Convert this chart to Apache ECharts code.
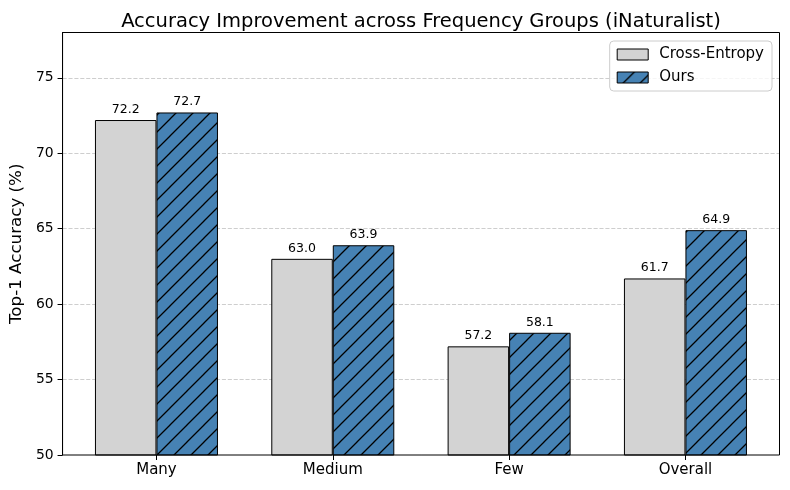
<!DOCTYPE html>
<html>
<head>
<meta charset="utf-8">
<script src="https://cdn.jsdelivr.net/npm/echarts@6/dist/echarts.min.js"></script>
<style>
html,body{margin:0;padding:0;background:#fff;}
#chart{width:790px;height:490px;}
</style>
</head>
<body>
<div id="chart"></div>
<script>
const categories = ['Many', 'Medium', 'Few', 'Overall'];
const crossEntropy = [72.2, 63.0, 57.2, 61.7];
const ours = [72.7, 63.9, 58.1, 64.9];
const seriesNames = ['Cross-Entropy', 'Ours'];
const yMin = 50, yMax = 78, yInterval = 5;

function hatch() {
  const s = 17;
  const c = document.createElement('canvas');
  c.width = s; c.height = s;
  const g = c.getContext('2d');
  g.fillStyle = '#4682b4';
  g.fillRect(0, 0, s, s);
  g.strokeStyle = '#000';
  g.lineWidth = 1.3;
  g.beginPath();
  g.moveTo(-2, s + 2); g.lineTo(s + 2, -2);
  g.moveTo(-2, 2); g.lineTo(2, -2);
  g.moveTo(s - 2, s + 2); g.lineTo(s + 2, s - 2);
  g.stroke();
  return c;
}

const font = 'DejaVu Sans';
const chart = echarts.init(document.getElementById('chart'), null, {renderer: 'canvas'});
const labelCfg = {
  show: true, position: 'top', distance: 4,
  fontFamily: font, fontSize: 12.5, color: '#000',
  formatter: p => p.value.toFixed(1)
};
chart.setOption({
  animation: false,
  backgroundColor: '#fff',
  title: {
    text: 'Accuracy Improvement across Frequency Groups (iNaturalist)',
    left: 416, top: 7, textAlign: 'center',
    textStyle: {fontFamily: font, fontSize: 19.5, fontWeight: 'normal', color: '#000'}
  },
  legend: {
    data: seriesNames,
    orient: 'vertical',
    right: 18, top: 41,
    icon: 'rect',
    itemWidth: 31, itemHeight: 11, itemGap: 8,
    padding: [6, 8, 6, 7],
    borderColor: '#cccccc', borderWidth: 1, borderRadius: 4,
    backgroundColor: 'rgba(255,255,255,0.8)',
    textStyle: {fontFamily: font, fontSize: 15, color: '#000', padding: [0, 0, 0, 6]},
    itemStyle: {borderColor: '#000', borderWidth: 1}
  },
  grid: [
    {left: 60.5, top: 32.5, width: 719, height: 422.5, show: true, borderColor: '#000', borderWidth: 1, backgroundColor: 'transparent', z: 5},
    {left: 68.3, top: 32.5, width: 705.3, height: 422.5}
  ],
  xAxis: [
    {gridIndex: 0, type: 'value', min: 0, max: 1, show: false},
    {gridIndex: 1, type: 'category', data: categories,
     axisLine: {show: false},
     axisTick: {show: true, alignWithLabel: true, length: 5, lineStyle: {color: '#000'}},
     axisLabel: {fontFamily: font, fontSize: 15, color: '#000', margin: 8}}
  ],
  yAxis: [
    {gridIndex: 0, type: 'value', min: yMin, max: yMax, interval: yInterval,
     name: 'Top-1 Accuracy (%)', nameLocation: 'middle', nameGap: 36,
     nameTextStyle: {fontFamily: font, fontSize: 16.7, color: '#000'},
     axisLine: {show: true, lineStyle: {color: '#000'}},
     axisTick: {show: true, length: 5, lineStyle: {color: '#000'}},
     axisLabel: {fontFamily: font, fontSize: 13.9, color: '#000', margin: 9, showMaxLabel: false},
     splitLine: {show: true, showMinLine: false, showMaxLine: false, lineStyle: {color: '#c8c8c8', type: [4.1, 1.8], width: 0.9}}},
    {gridIndex: 1, type: 'value', min: yMin, max: yMax, show: false, splitLine: {show: false}}
  ],
  series: [
    {name: seriesNames[0], type: 'bar', xAxisIndex: 1, yAxisIndex: 1,
     data: crossEntropy, barWidth: 61.5, barGap: '0%',
     itemStyle: {color: '#d3d3d3', borderColor: '#000', borderWidth: 1},
     label: labelCfg},
    {name: seriesNames[1], type: 'bar', xAxisIndex: 1, yAxisIndex: 1,
     data: ours, barWidth: 61.5, barGap: '0%',
     itemStyle: {color: {image: hatch(), repeat: 'repeat'}, borderColor: '#000', borderWidth: 1},
     label: labelCfg}
  ]
});
</script>
</body>
</html>
